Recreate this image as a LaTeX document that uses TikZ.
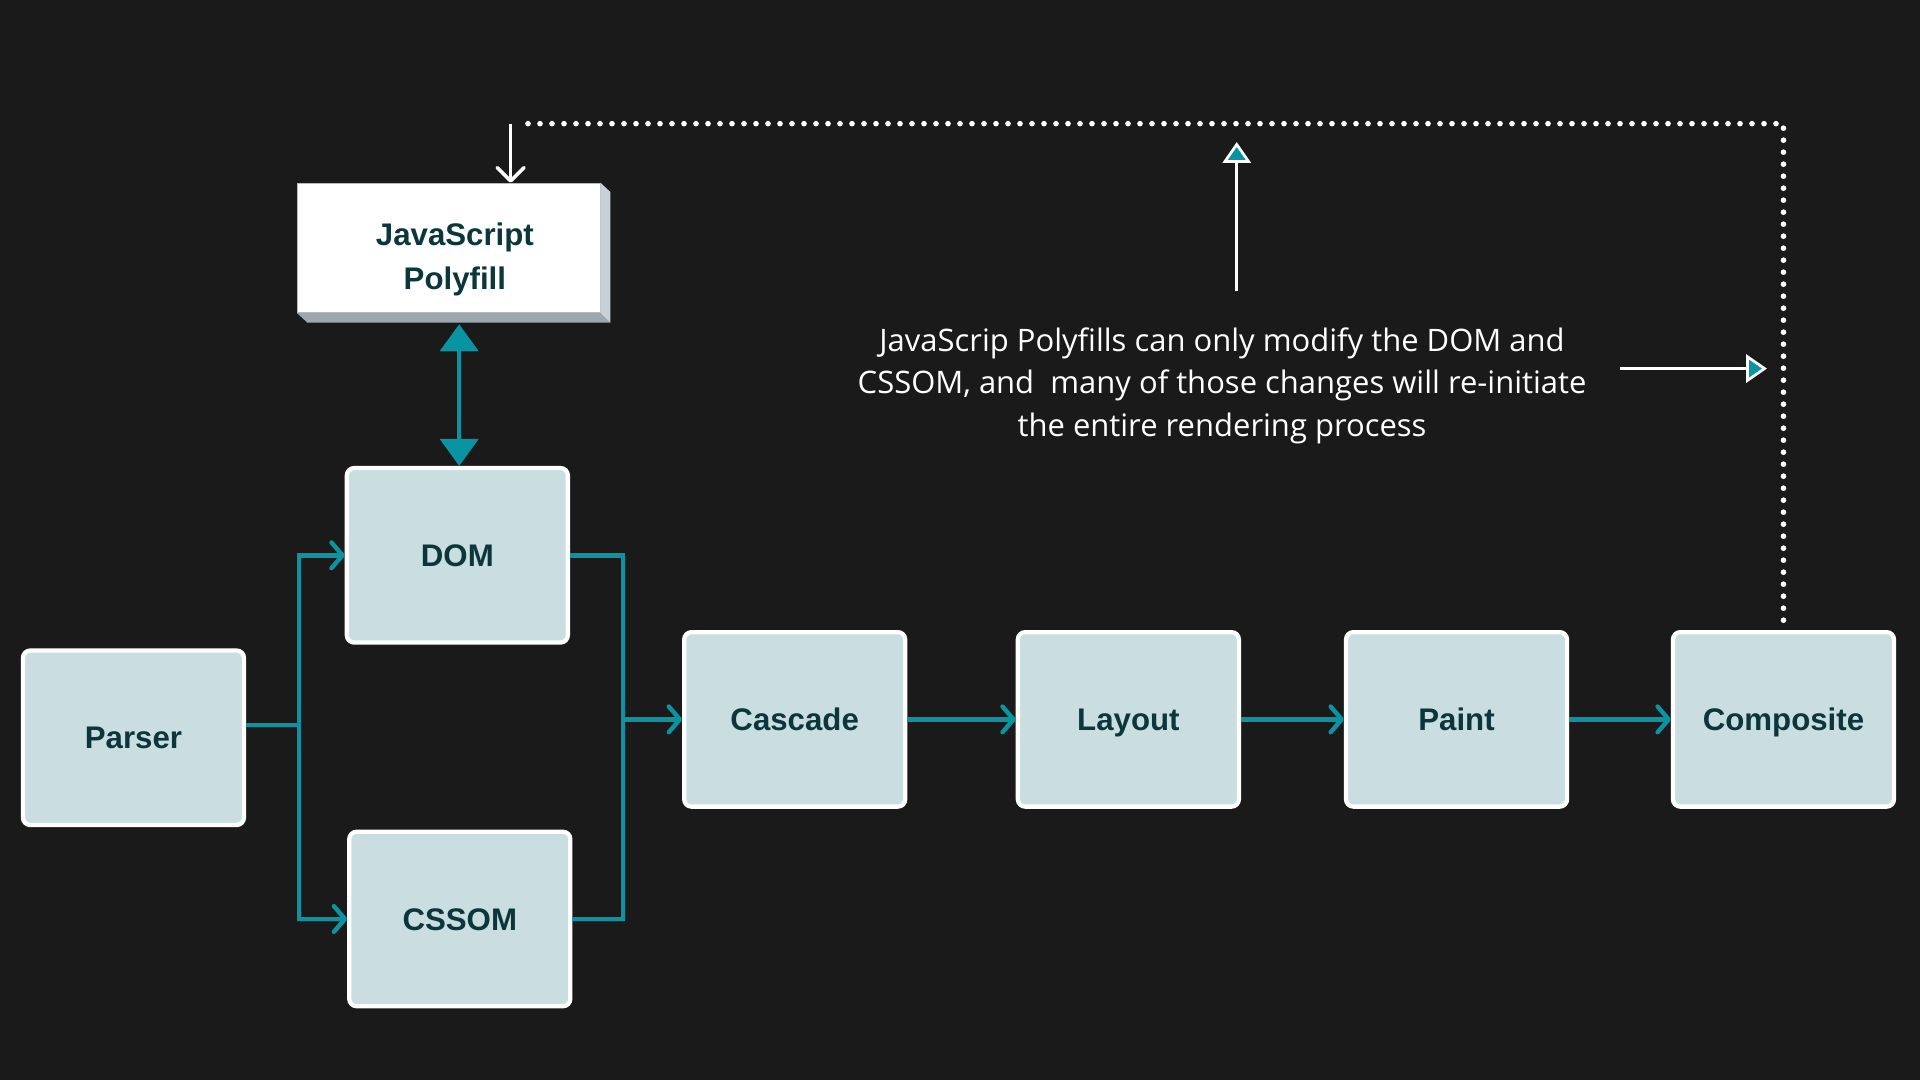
\documentclass[tikz,border=0pt]{standalone}
\usepackage{fontspec}
\setmainfont{Liberation Sans}
\newfontfamily\notefont{Open Sans}
\usetikzlibrary{arrows.meta}
\definecolor{bgc}{HTML}{1A1A1A}
\definecolor{boxfill}{HTML}{CADDE0}
\definecolor{txtc}{HTML}{0A363C}
\definecolor{tealc}{HTML}{0994A3}
\definecolor{botface}{HTML}{9AA6B0}
\definecolor{rightface}{HTML}{C8D0D8}
\begin{document}
\begin{tikzpicture}[x=1pt,y=-1pt,
  stage/.style={draw=white, line width=3.5pt, fill=boxfill, rounded corners=6pt,
    minimum width=180.5pt, minimum height=142.5pt, inner sep=0pt,
    text height=18.3pt, text depth=0pt,
    font=\fontsize{25.5}{30}\selectfont\bfseries, text=txtc},
  jsbox/.style={fill=white, draw=gray!55, line width=0.6pt, minimum width=247pt,
    minimum height=106pt, align=center, inner sep=0pt,
    font=\fontsize{25.5}{36}\selectfont\bfseries, text=txtc},
  link/.style={draw=tealc, line width=3.6pt},
  flow/.style={link, -{Straight Barb[length=9pt,width=21pt,round]}},
  dbl/.style={draw=tealc, line width=3.4pt,
    {Triangle[length=22pt,width=31pt]}-{Triangle[length=22pt,width=31pt]}},
  wharrow/.style={draw=white, line width=2.8pt, -{Straight Barb[length=11pt,width=22pt,round]}},
  hollowtip/.style={draw=white, line width=2.6pt,
    -{Triangle[length=17pt,width=23pt,fill=tealc,line width=2.2pt]}},
  dotline/.style={draw=white, line width=4.6pt, line cap=round, dash pattern=on 0pt off 9.8pt},
  note/.style={align=center, text=white, inner sep=0pt,
    font=\notefont\fontsize{25.3}{34.5}\selectfont}
]
\fill[bgc] (0,0) rectangle (1568,882);
\useasboundingbox (0,0) rectangle (1568,882);

% stage boxes
\node[stage] (parser) at (109,602.5) {Parser};
\node[stage] (dom) at (373.5,453.5) {DOM};
\node[stage] (cssom) at (375.5,750.5) {CSSOM};
\node[stage] (cascade) at (649,587.5) {Cascade};
\node[stage] (layout) at (921.5,587.5) {Layout};
\node[stage] (paint) at (1189.5,587.5) {Paint};
\node[stage] (composite) at (1456.5,587.5) {Composite};

% JavaScript polyfill box with extrusion
\node[jsbox] (js) at (366.5,202.5)
  {\hspace*{10pt}\rule{0pt}{37pt}JavaScript\\\hspace*{10pt}Polyfill};
\fill[botface] (js.south west) -- (js.south east) -- ++(8.2,7.6)
  -- ([shift={(8.2,7.6)}]js.south west) -- cycle;
\fill[rightface] (js.north east) -- ++(8.2,7.6)
  -- ([shift={(8.2,7.6)}]js.south east) -- (js.south east) -- cycle;

% connectors
\coordinate (split) at (244,592);
\coordinate (merge) at (509,587.5);
\draw[link] (parser.east |- split) -- (split);
\draw[flow] (split) |- (dom.west);
\draw[flow] (split) |- (cssom.west);
\draw[link] (dom.east) -| (merge);
\draw[link] (cssom.east) -| (merge);
\draw[flow] (merge) -- (cascade.west);
\draw[flow] (cascade.east) -- (layout.west);
\draw[flow] (layout.east) -- (paint.west);
\draw[flow] (paint.east) -- (composite.west);

% JS <-> DOM
\coordinate (dtop) at ([yshift=-9pt]js.south);
\draw[dbl] ([xshift=1.5pt]dtop -| dom.north) -- ([xshift=1.5pt]dom.north);

% feedback loop
\coordinate (loop) at (417,101);
\draw[dotline] ([yshift=8pt]composite.north) |- ([xshift=6pt]loop);
\draw[wharrow] (loop) -- (loop |- js.north);

% note
\node[note] (note) at (998,315) {JavaScrip Polyfills can only modify the DOM and\\CSSOM, and\ \ many of those changes will re-initiate\\the entire rendering process};
\coordinate (upfrom) at (1010,238);
\coordinate (upto) at (1010,116);
\coordinate (rfrom) at (1323,301);
\coordinate (rto) at (1443,301);
\draw[hollowtip] (upfrom) -- (upto);
\draw[hollowtip] (rfrom) -- (rto);
\end{tikzpicture}
\end{document}
